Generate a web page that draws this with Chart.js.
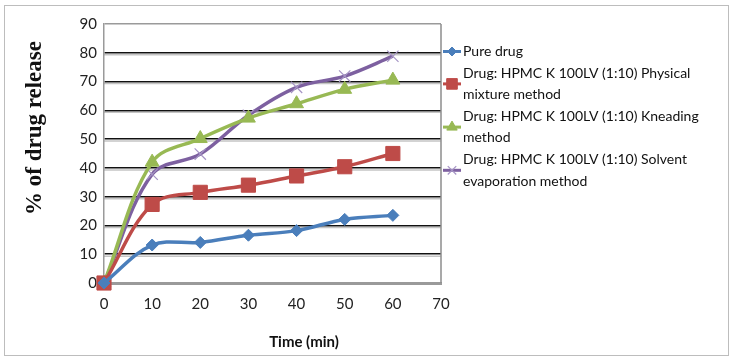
<!DOCTYPE html>
<html>
<head>
<meta charset="utf-8">
<script src="https://cdn.jsdelivr.net/npm/chart.js@4.4.1/dist/chart.umd.min.js"></script>
<style>
  html, body { margin: 0; padding: 0; background: #fff; }
  #wrap { width: 733px; height: 360px; }
</style>
</head>
<body>
<div id="wrap"><canvas id="releaseChart" width="733" height="360"></canvas></div>
<script>
// time points (min)
const times = [0, 10, 20, 30, 40, 50, 60];

// % of drug release
const pureDrug = [0, 13.2, 14.1, 16.6, 18.2, 22.1, 23.5];
const physicalMixture = [0, 27.3, 31.5, 34, 37.2, 40.4, 45];
const kneading = [0, 42, 50.2, 57.3, 62.3, 67.3, 70.5];
const solventEvap = [0, 37.8, 44.8, 58.3, 68, 71.9, 78.8];

const seriesLabels = [
  ['Pure drug'],
  ['Drug: HPMC K 100LV (1:10) Physical', 'mixture method'],
  ['Drug: HPMC K 100LV (1:10) Kneading', 'method'],
  ['Drug: HPMC K 100LV (1:10) Solvent', 'evaporation method']
];

const yTicks = [0, 10, 20, 30, 40, 50, 60, 70, 80, 90];
const xTicks = [0, 10, 20, 30, 40, 50, 60, 70];

const xTitle = 'Time (min)';
const yTitle = '% of drug release';

const tickFont = { family: 'Lato', size: 15 };

function toPoints(vals) {
  return times.map((t, i) => ({ x: t, y: vals[i] }));
}

const styles = [
  { color: '#4A7EBB', pointStyle: 'rectRot', radius: 6, pointColor: '#4A7EBB', pointWidth: 1 },
  { color: '#BE4B48', pointStyle: 'rect', radius: 10, pointColor: '#BE4B48', pointWidth: 1 },
  { color: '#98B954', pointStyle: 'triangle', radius: 8, pointColor: '#98B954', pointWidth: 1 },
  { color: '#7D60A0', pointStyle: 'crossRot', radius: 8, pointColor: '#A594C4', pointWidth: 1.2 }
];

const allSeries = [pureDrug, physicalMixture, kneading, solventEvap];

const datasets = allSeries.map((vals, i) => ({
  label: seriesLabels[i].join(' '),
  data: toPoints(vals),
  borderColor: styles[i].color,
  backgroundColor: styles[i].pointColor,
  borderWidth: 3.5,
  tension: 0.35,
  pointStyle: styles[i].pointStyle,
  pointRadius: styles[i].radius,
  pointBorderColor: styles[i].pointColor,
  pointBackgroundColor: styles[i].pointColor,
  pointBorderWidth: styles[i].pointWidth,
  clip: false
}));

// frame, axis titles, gridline shadow and the wrapped legend
const excelLook = {
  id: 'excelLook',
  beforeDraw(chart) {
    const ctx = chart.ctx;
    ctx.save();
    ctx.fillStyle = '#fff';
    ctx.fillRect(0, 0, chart.width, chart.height);
    ctx.strokeStyle = '#BDBDBD';
    ctx.lineWidth = 1;
    ctx.strokeRect(4.5, 5.5, 724, 350);
    ctx.restore();
  },
  beforeDatasetsDraw(chart) {
    const ctx = chart.ctx;
    const y = chart.scales.y;
    const a = chart.chartArea;
    ctx.save();
    // soft grey shadow under each black gridline
    ctx.strokeStyle = 'rgba(150,150,150,0.55)';
    ctx.lineWidth = 1.5;
    yTicks.forEach(v => {
      if (v === 0 || v === 90) return;
      const py = y.getPixelForValue(v) + 2;
      ctx.beginPath();
      ctx.moveTo(a.left, py);
      ctx.lineTo(a.right, py);
      ctx.stroke();
    });
    // right border of plot area
    ctx.strokeStyle = '#8C8C8C';
    ctx.lineWidth = 1.5;
    ctx.beginPath();
    ctx.moveTo(a.right, a.top);
    ctx.lineTo(a.right, a.bottom);
    ctx.stroke();
    ctx.restore();
  },
  afterDraw(chart) {
    const ctx = chart.ctx;
    ctx.save();
    // axis titles
    ctx.fillStyle = '#111';
    ctx.textAlign = 'center';
    ctx.textBaseline = 'middle';
    ctx.font = 'bold 15px Lato';
    ctx.fillText(xTitle, 304, 342);
    ctx.translate(35, 128);
    ctx.rotate(-Math.PI / 2);
    ctx.font = 'bold 23px "Liberation Serif"';
    ctx.fillText(yTitle, 0, 0);
    ctx.restore();

    // legend
    ctx.save();
    ctx.font = '14px Lato';
    ctx.textAlign = 'left';
    ctx.textBaseline = 'middle';
    const lineH = 21.6;
    let ty = 51.5;
    const mx = 452;
    const tx = 463;
    seriesLabels.forEach((lines, i) => {
      const st = styles[i];
      const my = ty + (lines.length - 1) * lineH / 2;
      ctx.strokeStyle = st.color;
      ctx.lineWidth = 3;
      ctx.beginPath();
      ctx.moveTo(mx - 9, my);
      ctx.lineTo(mx + 9, my);
      ctx.stroke();
      ctx.fillStyle = st.pointColor;
      ctx.strokeStyle = st.pointColor;
      ctx.lineWidth = st.pointWidth;
      Chart.helpers.drawPoint(ctx, {
        pointStyle: st.pointStyle,
        radius: st.radius * 0.75,
        rotation: 0,
        borderWidth: st.pointWidth
      }, mx, my);
      ctx.fillStyle = '#111';
      lines.forEach((ln, k) => {
        ctx.fillText(ln, tx, ty + k * lineH);
      });
      ty += lines.length * lineH;
    });
    ctx.restore();
  }
};

new Chart(document.getElementById('releaseChart').getContext('2d'), {
  type: 'line',
  data: { datasets: datasets },
  options: {
    responsive: false,
    animation: false,
    events: [],
    layout: { padding: { left: 0, top: 24, right: 292, bottom: 0 } },
    plugins: {
      legend: { display: false },
      tooltip: { enabled: false }
    },
    scales: {
      x: {
        type: 'linear',
        min: 0,
        max: 70,
        afterBuildTicks: s => { s.ticks = xTicks.map(v => ({ value: v })); },
        afterFit: s => { s.height = 77; },
        ticks: { font: tickFont, color: '#222', padding: 12 },
        grid: { display: false, drawTicks: false },
        border: { display: true, color: '#9A9A9A', width: 3 }
      },
      y: {
        min: 0,
        max: 90,
        afterBuildTicks: s => { s.ticks = yTicks.map(v => ({ value: v })); },
        afterFit: s => { s.width = 104; },
        ticks: { font: tickFont, color: '#222', padding: 7 },
        grid: {
          drawTicks: false,
          color: c => (c.tick && (c.tick.value === 0 || c.tick.value === 90)) ? '#9A9A9A' : '#111',
          lineWidth: c => (c.tick && c.tick.value === 0) ? 3 : 1.5
        },
        border: { display: true, color: '#9A9A9A', width: 1.5 }
      }
    }
  },
  plugins: [excelLook]
});
</script>
</body>
</html>
